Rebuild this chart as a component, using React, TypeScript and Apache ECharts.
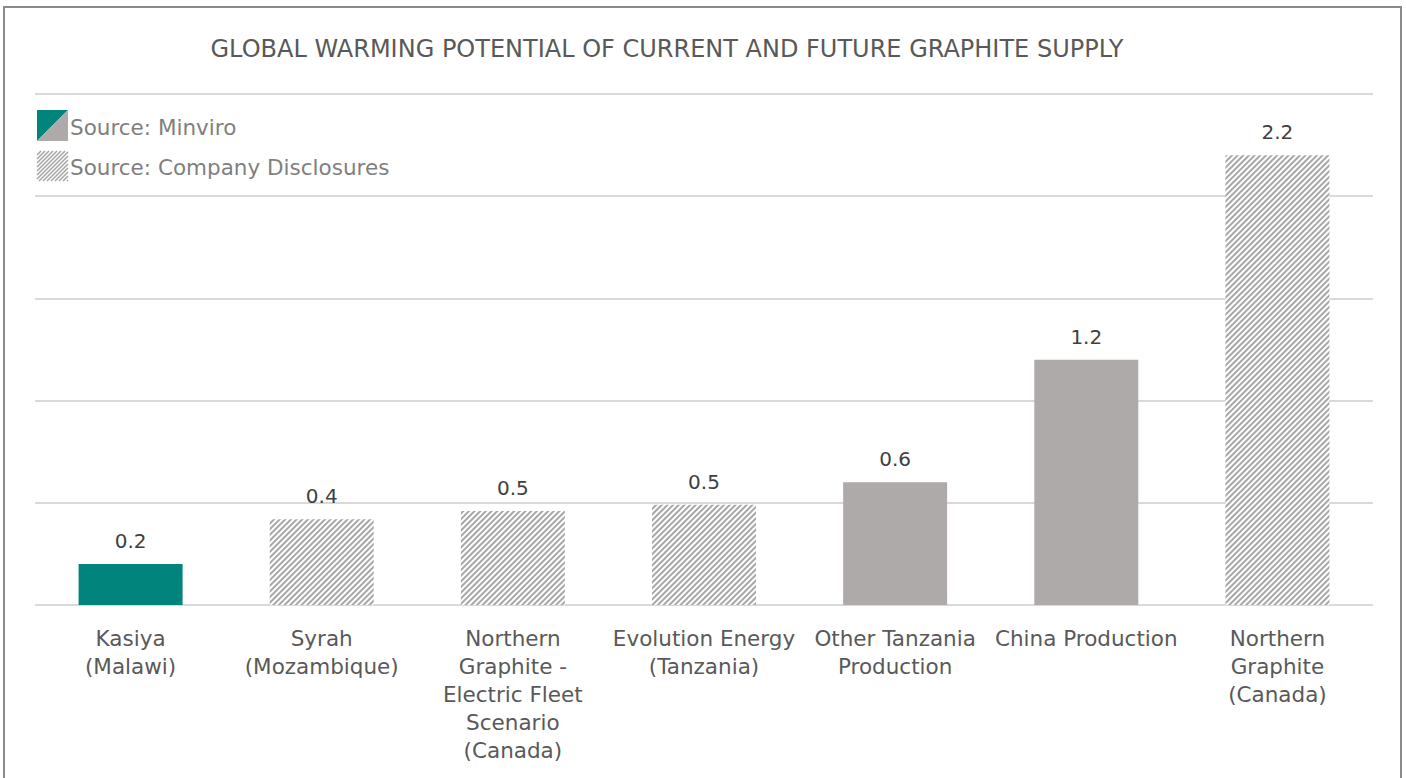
import React, { useEffect, useRef } from 'react';
import * as echarts from 'echarts';

const chartTitle = 'GLOBAL WARMING POTENTIAL OF CURRENT AND FUTURE GRAPHITE SUPPLY';
const categories = [
  'Kasiya\n(Malawi)',
  'Syrah\n(Mozambique)',
  'Northern\nGraphite -\nElectric Fleet\nScenario\n(Canada)',
  'Evolution Energy\n(Tanzania)',
  'Other Tanzania\nProduction',
  'China Production',
  'Northern\nGraphite\n(Canada)',
];
const values = [0.2, 0.42, 0.46, 0.49, 0.6, 1.2, 2.2];
// 'focus' = Minviro (Kasiya), 'minviro' = Minviro solid grey, 'disclosure' = hatched
const sourceKind = ['focus', 'disclosure', 'disclosure', 'disclosure', 'minviro', 'minviro', 'disclosure'];
const legendLabels = ['Source: Minviro', 'Source: Company Disclosures'];
const yMin = 0;
const yMax = 2.5;
const yInterval = 0.5;

const TEAL = '#00847b';
const GREY = '#aeaaa9';
const HATCH = '#a8a6a6';
const FONT = '"DejaVu Sans", sans-serif';

function hatchLines(x0: number, y0: number, w: number, h: number, step: number) {
  const out: any[] = [];
  for (let c = x0 + y0; c <= x0 + w + y0 + h; c += step) {
    const sx = Math.max(x0, c - (y0 + h));
    const ex = Math.min(x0 + w, c - y0);
    if (ex - sx > 0.5) {
      out.push({
        type: 'line',
        shape: { x1: sx, y1: c - sx, x2: ex, y2: c - ex },
        style: { stroke: HATCH, lineWidth: 1.6 },
        silent: true,
      });
    }
  }
  return out;
}

export default function App() {
  const ref = useRef<HTMLDivElement>(null);
  useEffect(() => {
    const chart = echarts.init(ref.current!, undefined, { renderer: 'svg' });
    const data = values.map((v, i) => {
      const k = sourceKind[i];
      if (k === 'focus') return { value: v, itemStyle: { color: TEAL } };
      if (k === 'minviro') return { value: v, itemStyle: { color: GREY } };
      return {
        value: v,
        itemStyle: {
          color: '#ffffff',
          decal: {
            symbol: 'rect',
            symbolSize: 1,
            dashArrayX: [1, 0],
            dashArrayY: [1.5, 1.5],
            rotation: -Math.PI / 4,
            color: HATCH,
          },
        },
      };
    });
    const option: any = {
      animation: false,
      backgroundColor: '#ffffff',
      title: {
        text: chartTitle,
        left: 662,
        top: 32,
        textAlign: 'center',
        textStyle: { fontFamily: FONT, fontSize: 24, fontWeight: 'normal', color: '#595959' },
      },
      grid: { left: 35, right: 34, top: 94, bottom: 173, containLabel: false },
      xAxis: {
        type: 'category',
        data: categories,
        axisLine: { show: false },
        axisTick: { show: false },
        axisLabel: {
          interval: 0,
          margin: 19,
          fontFamily: FONT,
          fontSize: 21.5,
          lineHeight: 28,
          color: '#595959',
          align: 'center',
        },
      },
      yAxis: {
        type: 'value',
        min: yMin,
        max: yMax,
        interval: yInterval,
        axisLabel: { show: false },
        axisLine: { show: false },
        axisTick: { show: false },
        splitLine: { lineStyle: { color: '#d9d9d9', width: 2 } },
      },
      series: [
        {
          type: 'bar',
          data,
          barWidth: 104,
          label: {
            show: true,
            position: 'top',
            distance: 13,
            fontFamily: FONT,
            fontSize: 20,
            color: '#404040',
            formatter: (p: any) => Number(p.value).toFixed(1),
          },
        },
      ],
      graphic: [
        {
          type: 'rect',
          shape: { x: 4, y: 7, width: 1397, height: 820 },
          style: { fill: 'none', stroke: '#8a8a8a', lineWidth: 2 },
          silent: true,
          z: 100,
        },
        {
          type: 'polygon',
          shape: { points: [[37, 110], [68, 110], [37, 141]] },
          style: { fill: TEAL },
          silent: true,
        },
        {
          type: 'polygon',
          shape: { points: [[68, 110], [68, 141], [37, 141]] },
          style: { fill: GREY },
          silent: true,
        },
        {
          type: 'group',
          children: hatchLines(37, 151, 31, 30, 4),
        },
        {
          type: 'text',
          x: 70,
          y: 127,
          style: {
            text: legendLabels[0],
            fontFamily: FONT,
            fontSize: 21.5,
            fill: '#7f7f7f',
            textVerticalAlign: 'middle',
          },
        },
        {
          type: 'text',
          x: 70,
          y: 167,
          style: {
            text: legendLabels[1],
            fontFamily: FONT,
            fontSize: 21.5,
            fill: '#7f7f7f',
            textVerticalAlign: 'middle',
          },
        },
      ],
    };
    chart.setOption(option);
    return () => chart.dispose();
  }, []);
  return (
    <div
      ref={ref}
      style={{ position: 'fixed', left: 0, top: 0, width: 1407, height: 778, background: '#fff' }}
    />
  );
}
